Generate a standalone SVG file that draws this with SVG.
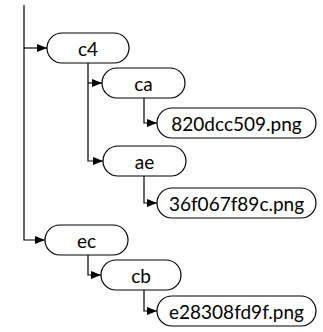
<svg xmlns="http://www.w3.org/2000/svg" width="323" height="332" viewBox="0 0 323 332">
<style>
.n rect{fill:#fff;stroke:#000;stroke-width:1.2}
.n text{font-family:Lato,"Liberation Sans",sans-serif;font-size:19px;fill:#000;text-anchor:middle;dominant-baseline:central}
.e path{fill:none;stroke:#000;stroke-width:1.2}
</style>
<defs>
<marker id="ah" viewBox="0 0 10 8" refX="10" refY="4" markerWidth="10" markerHeight="8" markerUnits="userSpaceOnUse" orient="auto">
<path d="M0,0 L10,4 L0,8 Z" fill="#000"/>
</marker>
</defs>
<g class="e">
<path d="M24,5 V240 H45" marker-end="url(#ah)"/>
<path d="M24,48 H47" marker-end="url(#ah)"/>
<path d="M88,63 V161 H103" marker-end="url(#ah)"/>
<path d="M88,83 H102" marker-end="url(#ah)"/>
<path d="M144,98 V123 H157" marker-end="url(#ah)"/>
<path d="M144,176 V203 H157" marker-end="url(#ah)"/>
<path d="M88,255 V275 H101" marker-end="url(#ah)"/>
<path d="M144,290 V311 H157" marker-end="url(#ah)"/>
</g>
<g id="c4" class="n"><rect x="47" y="33" width="82" height="30" rx="15"/><text x="88" y="48">c4</text></g>
<g id="ca" class="n"><rect x="102" y="68" width="83" height="30" rx="15"/><text x="143.5" y="83">ca</text></g>
<g id="f820" class="n"><rect x="157" y="108" width="159" height="30" rx="15"/><text x="236.5" y="123">820dcc509.png</text></g>
<g id="ae" class="n"><rect x="103" y="146" width="83" height="30" rx="15"/><text x="144.5" y="161">ae</text></g>
<g id="f36f" class="n"><rect x="157" y="188" width="159" height="30" rx="15"/><text x="236.5" y="203">36f067f89c.png</text></g>
<g id="ec" class="n"><rect x="45" y="225" width="83" height="30" rx="15"/><text x="86.5" y="240">ec</text></g>
<g id="cb" class="n"><rect x="101" y="260" width="80" height="30" rx="15"/><text x="141" y="275">cb</text></g>
<g id="fe28" class="n"><rect x="157" y="296" width="159" height="30" rx="15"/><text x="236.5" y="311">e28308fd9f.png</text></g>
</svg>
